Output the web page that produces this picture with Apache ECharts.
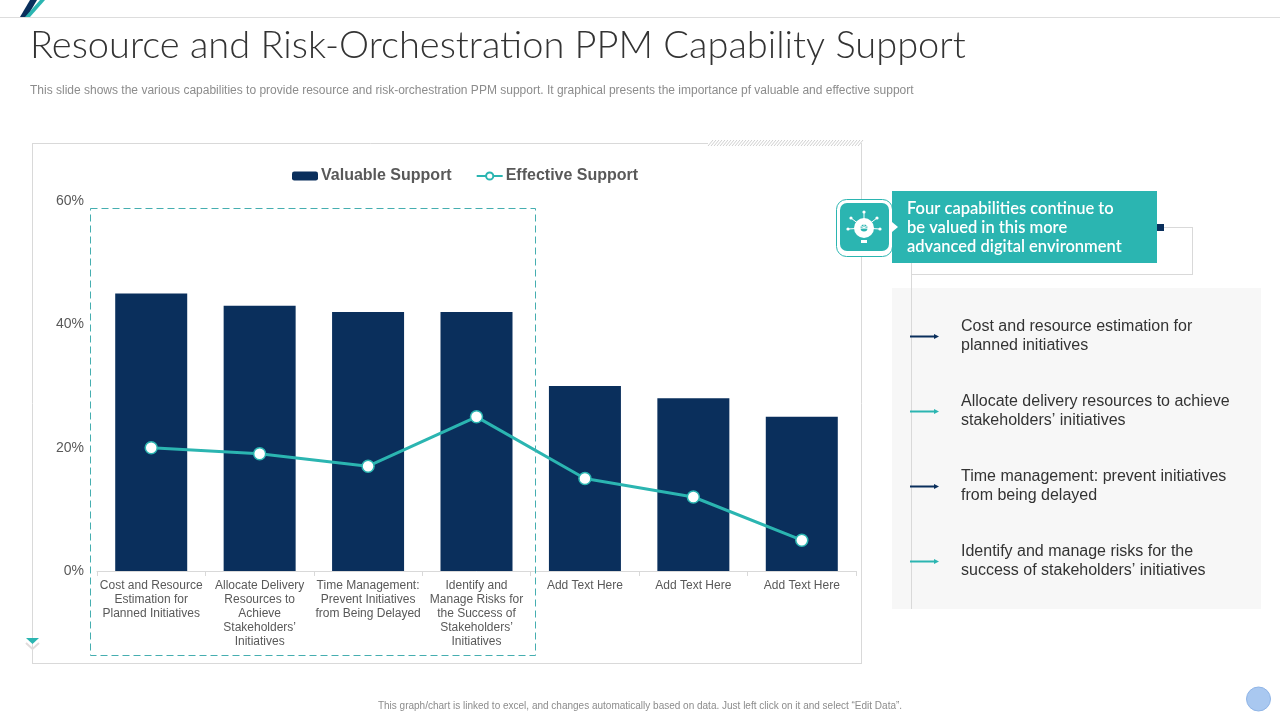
<!DOCTYPE html>
<html>
<head>
<meta charset="utf-8">
<title>PPM Capability Support</title>
<style>
html,body{margin:0;padding:0;background:#fff;}
#main{width:1280px;height:720px;}
</style>
<script src="https://cdn.jsdelivr.net/npm/echarts@6/dist/echarts.min.js"></script>
</head>
<body>
<div id="main"></div>
<script>
// data
var categories = [
	'Cost and Resource\nEstimation for\nPlanned Initiatives',
	'Allocate Delivery\nResources to\nAchieve\nStakeholders’\nInitiatives',
	'Time Management:\nPrevent Initiatives\nfrom Being Delayed',
	'Identify and\nManage Risks for\nthe Success of\nStakeholders’\nInitiatives',
	'Add Text Here',
	'Add Text Here',
	'Add Text Here'
];
var valuableSupport = [45, 43, 42, 42, 30, 28, 25];
var effectiveSupport = [20, 19, 17, 25, 15, 12, 5];
var seriesNames = ['Valuable Support', 'Effective Support'];
var panelItems = [
	'Cost and resource estimation for\nplanned initiatives',
	'Allocate delivery resources to achieve\nstakeholders’ initiatives',
	'Time management: prevent initiatives\nfrom being delayed',
	'Identify and manage risks for the\nsuccess of stakeholders’ initiatives'
];
var titleText = 'Resource and Risk-Orchestration PPM Capability Support';
var subtitleText = 'This slide shows the various capabilities to provide resource and risk-orchestration PPM support. It graphical presents the importance pf valuable and effective support';
var calloutText = 'Four capabilities continue to\nbe valued in this more\nadvanced digital environment';
var noteText = 'This graph/chart is linked to excel, and changes automatically based on data. Just left click on it and select “Edit Data”.';

var NAVY = '#0A2F5C';
var TEAL = '#2BB5B1';
var GREY = '#D9D9D9';

var myChart = echarts.init(document.getElementById('main'));

// helpers for the slide decoration
var line = function(x1, y1, x2, y2, color, width){
	return {type:'line', silent:true, shape:{x1:x1, y1:y1, x2:x2, y2:y2}, style:{stroke:color, lineWidth:width}};
};
var rect = function(x, y, w, h, fill, r){
	return {type:'rect', silent:true, shape:{x:x, y:y, width:w, height:h, r:r || 0}, style:{fill:fill}};
};
var text = function(x, y, str, font, color, extra){
	var style = {x:x, y:y, text:str, font:font, fill:color};
	for(var k in extra){ style[k] = extra[k]; }
	return {type:'text', silent:true, style:style};
};
var tri = function(x, y, w, h, fill){
	// small right pointing arrow head
	return {type:'polygon', silent:true, shape:{points:[[x, y - h], [x + w, y], [x, y + h]]}, style:{fill:fill}};
};

var graphics = [];
// top rule and logo
graphics.push(line(0, 17.5, 1280, 17.5, '#DDDDDD', 1));
graphics.push({type:'polygon', silent:true, shape:{points:[[30, 0], [37, 0], [27, 17], [20, 17]]}, style:{fill:NAVY}});
graphics.push({type:'polygon', silent:true, shape:{points:[[40, 0], [45, 0], [30, 17], [25, 17]]}, style:{fill:TEAL}});
// title block
graphics.push(text(30, 27, titleText, '300 38px Lato', '#333333', {}));
graphics.push(text(30, 85, subtitleText, '12px "Liberation Sans"', '#8C8C8C', {}));
// chart frame
graphics.push(line(32.5, 143.5, 708, 143.5, GREY, 1));
graphics.push(line(32.5, 143, 32.5, 664, GREY, 1));
graphics.push(line(32, 663.5, 862, 663.5, GREY, 1));
graphics.push(line(861.5, 143, 861.5, 664, GREY, 1));
for(var h = 708; h < 860; h += 3){
	graphics.push(line(h, 146, h + 5, 140, '#CFCFCF', 1));
}
// dashed box around the first four capabilities
graphics.push({type:'rect', silent:true, z:10, shape:{x:90.5, y:208.5, width:445, height:447},
	style:{fill:'none', stroke:'#45AEB0', lineWidth:1, lineDash:[7, 4]}});
// small marker at bottom left
graphics.push({type:'polyline', silent:true, shape:{points:[[26, 643], [32.5, 649], [39, 643]]}, style:{fill:'none', stroke:'#E0DCDC', lineWidth:2}});
graphics.push({type:'polygon', silent:true, shape:{points:[[26, 638], [39, 638], [32.5, 644]]}, style:{fill:TEAL}});
// right panel
graphics.push(rect(892, 288, 369, 321, '#F7F7F7'));
graphics.push(line(911.5, 257, 911.5, 609, GREY, 1));
graphics.push(line(911, 274.5, 1192.5, 274.5, GREY, 1));
graphics.push(line(1192.5, 227.5, 1192.5, 275, GREY, 1));
graphics.push(line(1164, 227.5, 1193, 227.5, GREY, 1));
// callout
graphics.push({type:'rect', silent:true, shape:{x:836.5, y:199.5, width:56, height:57, r:10}, style:{fill:'#fff', stroke:TEAL, lineWidth:1}});
graphics.push(rect(840, 203, 49, 48, TEAL, 7));
graphics.push(rect(892, 191, 265, 72, TEAL));
graphics.push(rect(1157, 224, 7, 7, NAVY));
graphics.push(tri(892, 227, 6, 5, '#FFFFFF'));
graphics.push(text(907, 199, calloutText, '600 16.5px Lato', '#FFFFFF', {lineHeight:19}));
// icon: bulb with spokes
graphics.push({type:'circle', silent:true, shape:{cx:864, cy:228, r:10}, style:{fill:'#fff'}});
graphics.push({type:'circle', silent:true, shape:{cx:864, cy:228, r:3.5}, style:{fill:TEAL}});
graphics.push(rect(861, 240, 6, 3, '#FFFFFF'));
[[864, 212], [851, 218], [877, 218], [848, 229], [880, 229]].forEach(function(p){
	graphics.push(line(864, 228, p[0], p[1], '#FFFFFF', 1));
	graphics.push({type:'circle', silent:true, shape:{cx:p[0], cy:p[1], r:1.6}, style:{fill:'#fff'}});
});
// panel list
panelItems.forEach(function(item, i){
	var y = 336.5 + i * 75;
	var color = i % 2 == 0 ? NAVY : TEAL;
	graphics.push(line(910, y, 934, y, color, 2));
	graphics.push(tri(934, y, 5, 2.5, color));
	graphics.push(text(961, y - 19, item, '16px "Liberation Sans"', '#333333', {lineHeight:19}));
});
// footer
graphics.push(text(640, 701, noteText, '10px "Liberation Sans"', '#8C8C8C', {align:'center'}));
graphics.push({type:'circle', silent:true, shape:{cx:1258.5, cy:699, r:12}, style:{fill:'#A9C8F0', stroke:'#8FB4E6', lineWidth:1}});

var option = {
	animation:false,
	textStyle:{fontFamily:'"Liberation Sans"'},
	legend:{
		left:287, top:163, itemGap:24, itemWidth:26, itemHeight:9,
		textStyle:{fontSize:16, fontWeight:'bold', color:'#595959', padding:[0, 0, 0, -2]},
		data:seriesNames
	},
	grid:{left:97, top:201, width:759, height:370},
	xAxis:{
		type:'category',
		data:categories,
		axisLine:{lineStyle:{color:GREY}},
		axisTick:{show:true, alignWithLabel:false, length:5, lineStyle:{color:GREY}},
		axisLabel:{interval:0, color:'#595959', fontSize:12, lineHeight:14, margin:8}
	},
	yAxis:{
		type:'value', min:0, max:60, interval:20,
		splitLine:{show:false},
		axisLine:{show:false},
		axisTick:{show:false},
		axisLabel:{color:'#595959', fontSize:14, margin:13, formatter:'{value}%'}
	},
	series:[
		{name:seriesNames[0], type:'bar', barWidth:72, itemStyle:{color:NAVY}, data:valuableSupport},
		{name:seriesNames[1], type:'line', symbol:'circle', symbolSize:12,
			lineStyle:{color:TEAL, width:3},
			itemStyle:{color:'#FFFFFF', borderColor:TEAL, borderWidth:1.5},
			data:effectiveSupport}
	],
	graphic:{elements:graphics}
};
myChart.setOption(option);
</script>
</body>
</html>
